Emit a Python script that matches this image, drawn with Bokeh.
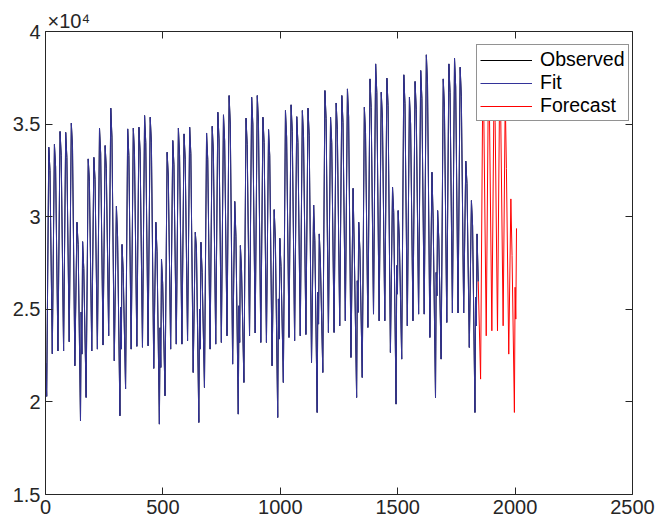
from bokeh.plotting import figure
from bokeh.models import LinearAxis, Legend, LegendItem, Title, FixedTicker, Range1d
from bokeh.embed import file_html
from bokeh.resources import INLINE

# ---- data (hourly load) ----
start_hour = 1
start_value = 22100
# per-day night low, daytime peak, evening value (observed, days 0..76)
obs_low = [20300, 22600, 22750, 22750, 23250, 21950, 18980,
           20240, 22750, 22850, 23070, 23570, 22220, 19250,
           20700, 22850, 23000, 22950, 23030, 21810, 18800,
           20330, 22850, 23120, 23120, 23300, 21590, 18890,
           20780, 22850, 23120, 23210, 23570, 22040, 19340,
           21050, 23570, 23720, 23210, 23210, 21950, 19160,
           21050, 23480, 23300, 23570, 23640, 22130, 19430,
           21590, 23750, 23750, 24110, 24380, 22400, 20240,
           21320, 24020, 24740, 24380, 24380, 22670, 19880,
           22310, 24110, 24380, 24740, 24740, 23480, 20240,
           22310, 24290, 24800, 24800, 24800, 22940, 19430]
obs_peak = [33750, 33900, 34600, 34550, 35050, 29700, 28650,
            33120, 33200, 34780, 33840, 35860, 30560, 28500,
            34740, 34780, 34830, 35460, 35370, 29700, 27700,
            33480, 34110, 34780, 34470, 34830, 29160, 28620,
            34520, 34880, 35640, 35500, 36540, 30820, 28440,
            35320, 36450, 36540, 35370, 34700, 30380, 28830,
            35730, 36040, 35400, 35730, 35860, 30630, 29070,
            36810, 35370, 36140, 36540, 36900, 31530, 29700,
            35910, 37440, 38250, 36720, 37480, 31590, 30330,
            37660, 36450, 37300, 37890, 38740, 32400, 30330,
            37440, 38250, 38560, 38070, 33000, 30870, 29070]
obs_eve = [32500, 32700, 33300, 33200, 33800, 28500, 27200,
           31900, 32000, 33400, 32600, 34300, 28900, 27000,
           33300, 33400, 33500, 34000, 34000, 28100, 26400,
           32200, 32800, 33300, 33100, 33400, 28250, 27000,
           33100, 33500, 34200, 34100, 35000, 28950, 27100,
           33900, 35000, 35100, 34000, 33300, 28800, 27300,
           34300, 34600, 34000, 34300, 34400, 28700, 27500,
           35300, 34000, 34700, 35100, 35400, 28250, 28200,
           34500, 35900, 36700, 35300, 36000, 30230, 28800,
           36100, 35000, 35800, 36400, 37200, 29880, 28800,
           35900, 36700, 37000, 36500, 31800, 29500, 26500]
# forecast, days 77..83
fc_low = [21230, 23570, 23840, 23840, 24110, 22580, 19430]
fc_peak = [36600, 36900, 36500, 36800, 36400, 30960, 29370]
fc_eve = [35200, 35400, 35100, 35300, 32600, 27900]
# Sunday-morning bump and dip, one per week (weeks 0..11)
sun_bump = [24850, 25100, 24000, 25000, 25190, 25560, 25920, 26540, 27360, 26990, 25640, 26190]
sun_dip = [22580, 22850, 21860, 22850, 23210, 23390, 24200, 24830, 25820, 25730, 24110, 24470]

x_ticks = [0, 500, 1000, 1500, 2000, 2500]
y_ticks = [15000, 20000, 25000, 30000, 35000, 40000]
y_tick_labels = ["1.5", "2", "2.5", "3", "3.5", "4"]

H_LOW, H_BUMP, H_DIP, H_PEAK, H_EVE = 5, 8, 11, 14, 19


def day_points(d, low, peak, eve):
    px = [24 * d + H_LOW]
    py = [low]
    if d % 7 == 6:
        w = d // 7
        px += [24 * d + H_BUMP, 24 * d + H_DIP]
        py += [sun_bump[w], sun_dip[w]]
    px.append(24 * d + H_PEAK)
    py.append(peak)
    if eve is not None:
        px.append(24 * d + H_EVE)
        py.append(eve)
    return px, py


xs, ys = [start_hour], [start_value]
for d in range(len(obs_low)):
    a, b = day_points(d, obs_low[d], obs_peak[d], obs_eve[d])
    xs += a
    ys += b

fx, fy = [xs[-1]], [ys[-1]]
d0 = len(obs_low)
for i in range(len(fc_low)):
    eve = fc_eve[i] if i < len(fc_eve) else None
    a, b = day_points(d0 + i, fc_low[i], fc_peak[i], eve)
    fx += a
    fy += b

FONT = "Liberation Sans"
AX = "#262626"

p = figure(frame_width=587, frame_height=463,
           x_range=Range1d(0, 2500), y_range=Range1d(15000, 40000),
           output_backend="svg", toolbar_location=None,
           min_border_left=45, min_border_right=32,
           min_border_top=31, min_border_bottom=37)
p.xgrid.visible = False
p.ygrid.visible = False
p.outline_line_color = None
p.background_fill_color = "white"

top_ax = LinearAxis()
right_ax = LinearAxis()
p.add_layout(top_ax, "above")
p.add_layout(right_ax, "right")

for ax in p.xaxis:
    ax.ticker = FixedTicker(ticks=x_ticks)
for ax in p.yaxis:
    ax.ticker = FixedTicker(ticks=y_ticks)
p.yaxis[0].major_label_overrides = {t: l for t, l in zip(y_ticks, y_tick_labels)}

for ax in p.axis:
    ax.axis_line_color = AX
    ax.axis_line_width = 1
    ax.major_tick_line_color = AX
    ax.major_tick_in = 7
    ax.major_tick_out = 0
    ax.minor_tick_line_color = None
    ax.major_label_text_font = FONT
    ax.major_label_text_font_size = "20px"
    ax.major_label_text_color = AX
    ax.major_label_standoff = 5

top_ax.major_label_overrides = {t: "" for t in x_ticks}
right_ax.major_label_overrides = {t: "" for t in y_ticks}
for ax in (top_ax, right_ax):
    ax.major_label_text_font_size = "1px"
    ax.major_label_standoff = 0

p.title = Title(text="×10⁴", align="left", offset=2, standoff=0,
                text_font=FONT, text_font_size="20px", text_font_style="normal",
                text_color=AX)

r_obs = p.line(xs, ys, line_color="black", line_width=1)
r_fit = p.line(xs, ys, line_color="#333399", line_width=1)
r_fc = p.line(fx, fy, line_color="#FF0000", line_width=1)

legend = Legend(items=[LegendItem(label="Observed", renderers=[r_obs]),
                       LegendItem(label="Fit", renderers=[r_fit]),
                       LegendItem(label="Forecast", renderers=[r_fc])],
                location=(431, 373))
legend.border_line_color = AX
legend.border_line_width = 1
legend.background_fill_color = "white"
legend.background_fill_alpha = 1
legend.label_text_font = FONT
legend.label_text_font_size = "19.5px"
legend.label_text_line_height = 1.0
legend.label_text_color = "black"
legend.glyph_width = 52
legend.glyph_height = 22
legend.label_height = 22
legend.label_standoff = 8
legend.padding = 3
legend.spacing = 0
legend.margin = 0
p.add_layout(legend)

open("out.html", "w").write(file_html(p, INLINE))
